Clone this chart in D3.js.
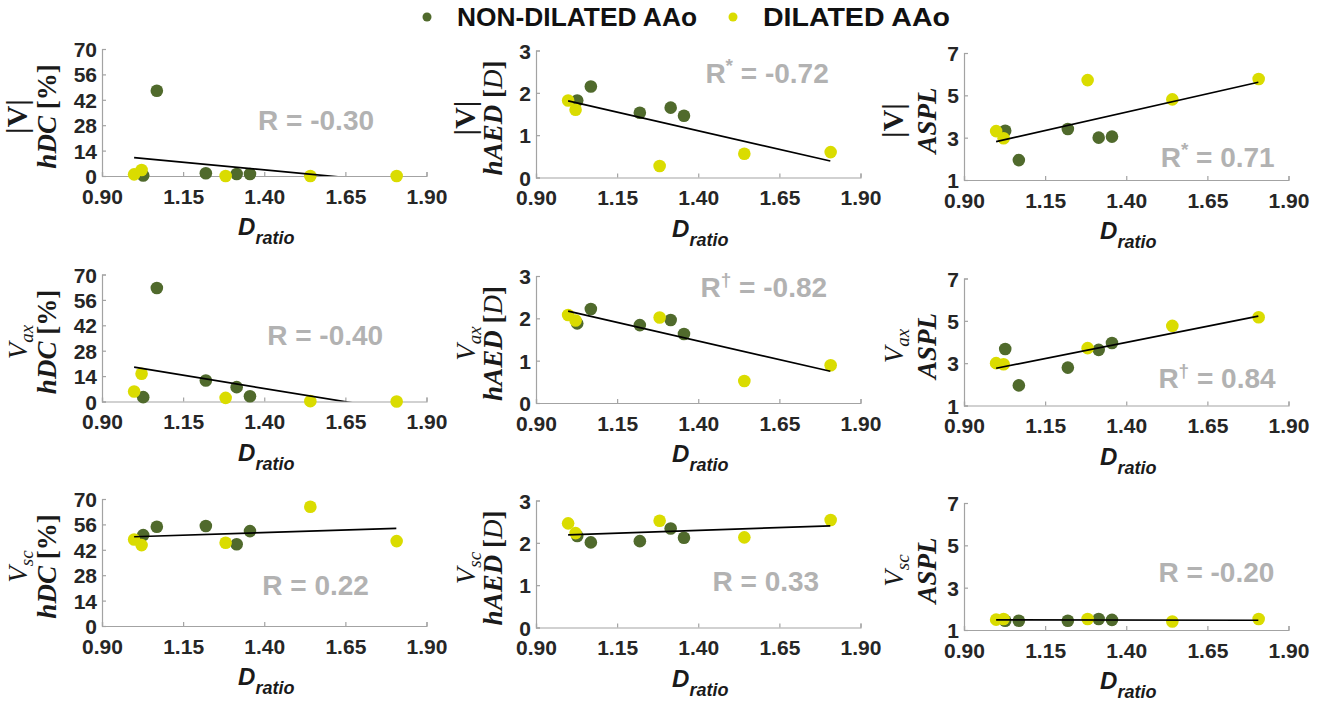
<!DOCTYPE html>
<html><head><meta charset="utf-8">
<script src="https://cdn.jsdelivr.net/npm/d3@7"></script>
<style>
html,body{margin:0;padding:0;background:#fff;}
svg{display:block;}
</style></head>
<body>
<svg id="chart" width="1324" height="704"></svg>
<script>
// ---------- DATA ----------
const groups = ["NON-DILATED AAo", "DILATED AAo"];
const xNonDilated = [1.027, 1.069, 1.220, 1.315, 1.356];
const xDilated    = [0.999, 1.022, 1.281, 1.542, 1.808];

const xTicks = [0.90, 1.15, 1.40, 1.65, 1.90];
const yTicksHDC  = [0, 14, 28, 42, 56, 70];
const yTicksHAED = [0, 1, 2, 3];
const yTicksASPL = [1, 3, 5, 7];

// y values per panel (rows: |V|, Vax, Vsc ; cols: hDC, hAED, ASPL)
const yNonDilated_V_hDC   = [0.3, 47.0, 1.5, 1.1, 1.1];
const yDilated_V_hDC      = [0.9, 3.3, 0.0, 0.0, 0.0];
const yNonDilated_V_hAED  = [1.82, 2.15, 1.53, 1.65, 1.46];
const yDilated_V_hAED     = [1.82, 1.60, 0.27, 0.56, 0.60];
const yNonDilated_V_ASPL  = [3.33, 1.94, 3.41, 3.00, 3.05];
const yDilated_V_ASPL     = [3.31, 2.97, 5.72, 4.81, 5.77];

const yNonDilated_Vax_hDC  = [2.4, 62.6, 11.6, 7.9, 2.9];
const yDilated_Vax_hDC     = [5.5, 15.3, 2.0, 0.2, 0.0];
const yNonDilated_Vax_hAED = [1.88, 2.22, 1.84, 1.96, 1.63];
const yDilated_Vax_hAED    = [2.08, 1.95, 2.02, 0.52, 0.89];
const yNonDilated_Vax_ASPL = [3.67, 1.95, 2.79, 3.63, 3.95];
const yDilated_Vax_ASPL    = [3.00, 2.95, 3.71, 4.76, 5.17];

const yNonDilated_Vsc_hDC  = [50.1, 54.7, 55.1, 45.1, 52.3];
const yDilated_Vsc_hDC     = [47.7, 44.6, 45.9, 65.7, 46.8];
const yNonDilated_Vsc_hAED = [2.16, 2.01, 2.04, 2.34, 2.12];
const yDilated_Vsc_hAED    = [2.46, 2.23, 2.52, 2.13, 2.54];
const yNonDilated_Vsc_ASPL = [1.44, 1.44, 1.44, 1.52, 1.48];
const yDilated_Vsc_ASPL    = [1.49, 1.52, 1.52, 1.40, 1.52];

// fitted line endpoints [x0, y0, x1, y1]
const fit_V_hDC    = [0.999, 10.1, 1.808, -3.5];
const fit_V_hAED   = [0.999, 1.81, 1.807, 0.39];
const fit_V_ASPL   = [0.999, 2.81, 1.807, 5.62];
const fit_Vax_hDC  = [0.999, 18.9, 1.807, -4.7];
const fit_Vax_hAED = [0.999, 2.17, 1.807, 0.75];
const fit_Vax_ASPL = [0.999, 2.76, 1.807, 5.22];
const fit_Vsc_hDC  = [0.999, 49.2, 1.807, 53.8];
const fit_Vsc_hAED = [0.999, 2.19, 1.807, 2.40];
const fit_Vsc_ASPL = [0.999, 1.48, 1.807, 1.46];

// correlation labels
const rMarks  = ["", "*", "*", "", "†", "†", "", "", ""];
const rValues = ["-0.30", "-0.72", "0.71", "-0.40", "-0.82", "0.84", "0.22", "0.33", "-0.20"];
// label anchor in data units [x, y]
const rAnchor = [[1.381, 25.4], [1.422, 2.24], [1.506, 1.61],
                 [1.409, 30.9], [1.407, 2.50], [1.499, 1.82],
                 [1.394, 17.0], [1.444, 0.86], [1.499, 3.25]];

const rowVars = ["V", "Vax", "Vsc"];
const colVars = ["hDC", "hAED", "ASPL"];

// ---------- LAYOUT ----------
const colLeft  = [102, 536, 964];
const colWidth = 324.5;
const rowTop   = [49, 274.5, 499];
const colDy    = [0, 1.5, 4];
const plotH    = 127;
const green = "#506a2c", yellow = "#dadc00";
const axisColor = "#a3a3a3", tickText = "#262626", rColor = "#b2b2b2";

const svg = d3.select("#chart");

const panels = [
  [yNonDilated_V_hDC, yDilated_V_hDC, fit_V_hDC],
  [yNonDilated_V_hAED, yDilated_V_hAED, fit_V_hAED],
  [yNonDilated_V_ASPL, yDilated_V_ASPL, fit_V_ASPL],
  [yNonDilated_Vax_hDC, yDilated_Vax_hDC, fit_Vax_hDC],
  [yNonDilated_Vax_hAED, yDilated_Vax_hAED, fit_Vax_hAED],
  [yNonDilated_Vax_ASPL, yDilated_Vax_ASPL, fit_Vax_ASPL],
  [yNonDilated_Vsc_hDC, yDilated_Vsc_hDC, fit_Vsc_hDC],
  [yNonDilated_Vsc_hAED, yDilated_Vsc_hAED, fit_Vsc_hAED],
  [yNonDilated_Vsc_ASPL, yDilated_Vsc_ASPL, fit_Vsc_ASPL]
];
const yTicksByCol = [yTicksHDC, yTicksHAED, yTicksASPL];
const labelOff = [[-75, -46], [-61, -34], [-61, -28]];

const defs = svg.append("defs");

panels.forEach((p, i) => {
  const r = Math.floor(i / 3), c = i % 3;
  const x0 = colLeft[c], y0 = rowTop[r] + colDy[c];
  const yt = yTicksByCol[c];
  const xs = d3.scaleLinear().domain([xTicks[0], xTicks[xTicks.length - 1]]).range([x0, x0 + colWidth]);
  const ys = d3.scaleLinear().domain([yt[0], yt[yt.length - 1]]).range([y0 + plotH, y0]);
  const g = svg.append("g");

  defs.append("clipPath").attr("id", "clip" + i).append("rect")
    .attr("x", x0).attr("y", y0).attr("width", colWidth).attr("height", plotH);

  // axes
  const xAxis = d3.axisBottom(xs).tickValues(xTicks).tickSize(-4).tickFormat(d3.format(".2f"));
  const gx = g.append("g").attr("transform", `translate(0,${y0 + plotH})`).call(xAxis);
  const yAxis = d3.axisLeft(ys).tickValues(yt).tickSize(-4).tickFormat(d3.format("d"));
  const gy = g.append("g").attr("transform", `translate(${x0},0)`).call(yAxis);
  [gx, gy].forEach(a => {
    a.select(".domain").attr("stroke", axisColor).attr("stroke-width", 1.2);
    a.selectAll(".tick line").attr("stroke", axisColor).attr("stroke-width", 1.2);
    a.selectAll(".tick text").attr("fill", tickText)
      .style("font-family", "'Liberation Sans', Arial, sans-serif")
      .style("font-weight", "bold").style("font-size", "21px");
  });
  gx.selectAll(".tick text").attr("y", 13).attr("dy", "0.71em");
  gy.selectAll(".tick text").attr("x", -5).attr("dy", "0.36em");

  // points
  const pts = [];
  xNonDilated.forEach((xv, k) => pts.push({x: xv, y: p[0][k], col: green}));
  xDilated.forEach((xv, k) => pts.push({x: xv, y: p[1][k], col: yellow}));
  g.append("g").selectAll("circle").data(pts).join("circle")
    .attr("cx", d => xs(d.x)).attr("cy", d => ys(d.y)).attr("r", 6.3)
    .attr("fill", d => d.col);

  // fit line
  const f = p[2];
  g.append("line").attr("clip-path", `url(#clip${i})`)
    .attr("x1", xs(f[0])).attr("y1", ys(f[1])).attr("x2", xs(f[2])).attr("y2", ys(f[3]))
    .attr("stroke", "#000").attr("stroke-width", 1.7);

  // R label
  const rt = g.append("text")
    .attr("x", xs(rAnchor[i][0])).attr("y", ys(rAnchor[i][1]))
    .attr("fill", rColor)
    .style("font-family", "'Liberation Sans', Arial, sans-serif")
    .style("font-weight", "bold").style("font-size", "28px");
  rt.append("tspan").text("R");
  if (rMarks[i]) {
    rt.append("tspan").attr("dy", -11).style("font-size", "19px").text(rMarks[i]);
    rt.append("tspan").attr("dy", 11).text(" = " + rValues[i]);
  } else {
    rt.append("tspan").text(" = " + rValues[i]);
  }

  // x label
  const xl = g.append("text")
    .attr("x", (x0 + x0 + colWidth) / 2 + 2).attr("y", y0 + plotH + 59)
    .attr("text-anchor", "middle").attr("fill", "#1a1a1a")
    .style("font-family", "'Liberation Sans', Arial, sans-serif")
    .style("font-weight", "bold").style("font-style", "italic").style("font-size", "24px");
  xl.append("tspan").text("D");
  xl.append("tspan").attr("dy", 9).style("font-size", "18px").text("ratio");

  // y label (two lines)
  const cy = y0 + plotH / 2 + 4;
  const serif = "'Liberation Serif', 'Times New Roman', serif";
  const l1 = g.append("text")
    .attr("transform", `translate(${x0 + labelOff[c][0]},${cy}) rotate(-90)`)
    .attr("text-anchor", "middle").attr("fill", "#1a1a1a")
    .style("font-family", serif).style("font-size", "27px");
  if (rowVars[r] === "V") {
    l1.append("tspan").style("font-weight", "bold").style("font-size", "30px").text("|V|");
  } else {
    l1.append("tspan").style("font-style", "italic").text("V");
    l1.append("tspan").attr("dy", 6).style("font-style", "italic").style("font-size", "19px")
      .text(rowVars[r] === "Vax" ? "ax" : "sc");
  }
  const l2 = g.append("text")
    .attr("transform", `translate(${x0 + labelOff[c][1]},${cy}) rotate(-90)`)
    .attr("text-anchor", "middle").attr("fill", "#1a1a1a")
    .style("font-family", serif).style("font-size", "27px").style("font-weight", "bold");
  if (colVars[c] === "hDC") {
    l2.append("tspan").style("font-style", "italic").text("hDC");
    l2.append("tspan").text(" [%]");
  } else if (colVars[c] === "hAED") {
    l2.append("tspan").style("font-style", "italic").text("hAED");
    l2.append("tspan").text(" [");
    l2.append("tspan").style("font-style", "italic").style("font-weight", "normal").text("D");
    l2.append("tspan").text("]");
  } else {
    l2.append("tspan").style("font-style", "italic").text("ASPL");
  }
});

// legend
const legendX = [427, 733];
const legendCols = [green, yellow];
const legendLen = [240, 187];
groups.forEach((name, k) => {
  svg.append("circle").attr("cx", legendX[k]).attr("cy", 17).attr("r", 4.5).attr("fill", legendCols[k]);
  svg.append("text").attr("x", legendX[k] + 30).attr("y", 26)
    .attr("fill", "#111")
    .attr("textLength", legendLen[k]).attr("lengthAdjust", "spacingAndGlyphs")
    .style("font-family", "'Liberation Sans', Arial, sans-serif")
    .style("font-weight", "bold").style("font-size", "25px").text(name);
});
</script>
</body></html>
